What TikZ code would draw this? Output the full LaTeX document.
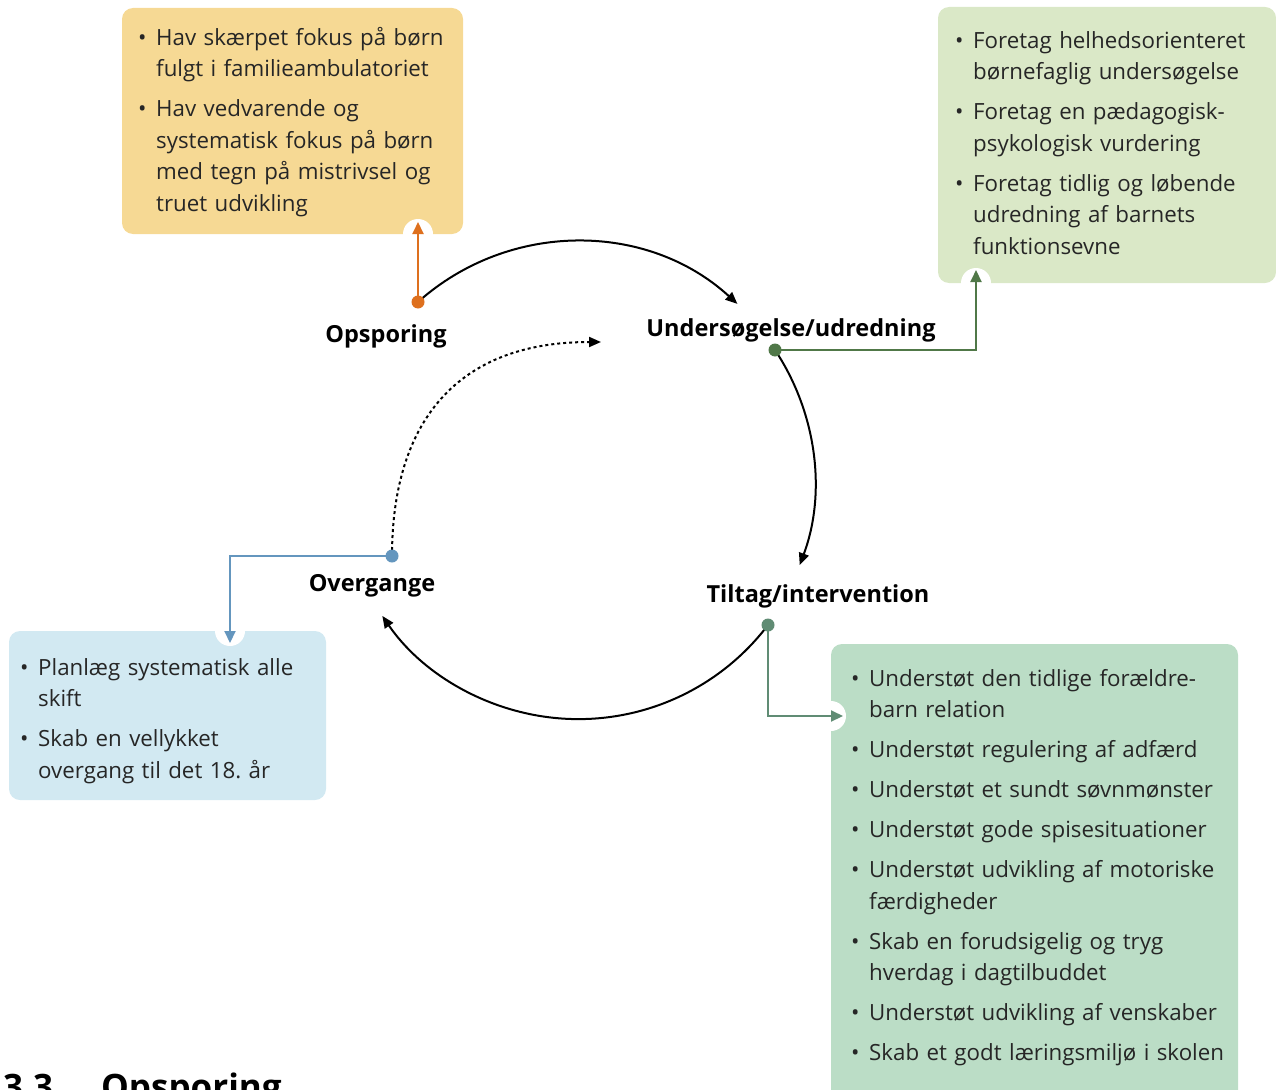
\documentclass[tikz,border=0pt]{standalone}
\usepackage{fontspec}
\setmainfont{Open Sans}
\usetikzlibrary{arrows.meta}
\frenchspacing
\definecolor{opsfill}{RGB}{246,217,148}
\definecolor{undfill}{RGB}{218,232,199}
\definecolor{ovefill}{RGB}{210,233,242}
\definecolor{tilfill}{RGB}{187,221,198}
\definecolor{opsline}{RGB}{222,112,30}
\definecolor{undline}{RGB}{80,120,72}
\definecolor{oveline}{RGB}{100,150,190}
\definecolor{tilline}{RGB}{96,140,116}
\newcommand\punkt{\hangindent=18pt\hangafter=1\makebox[18pt][l]{\textbullet}}

\begin{document}
\begin{tikzpicture}[x=1pt,y=-1pt,
  boks/.style={rounded corners=11pt},
  tekst/.style={anchor=north west,inner sep=0pt,text width=480pt,align=left,text=black!85,
    font=\fontsize{22.3}{31.5}\selectfont\setlength{\parskip}{8.5pt}},
  fase/.style={font=\bfseries\fontsize{23.5}{28}\selectfont,anchor=base,inner sep=0pt},
  hak/.style={fill=white,draw=none},
  cyc/.style={line width=2pt,-{Triangle[length=12pt,width=10pt]}},
  pil/.style={line width=2pt,-{Triangle[length=12pt,width=11pt]}}]
\useasboundingbox (0,0) rectangle (1276,1089);

% boxes
\fill[opsfill,boks] (122,8) rectangle (463,234);
\fill[undfill,boks] (938,7) rectangle (1276,283);
\fill[ovefill,boks] (9,631) rectangle (326,800);
\fill[tilfill,boks] (831,644) rectangle (1238,1120);
\fill[hak] (418,234) circle (15);
\fill[hak] (976,283) circle (15);
\fill[hak] (230,631) circle (15);
\fill[hak] (831,716) circle (15);

% dots and arrow ends
\coordinate (d-ops) at (418,302);
\coordinate (d-und) at (775,350);
\coordinate (d-til) at (768,625);
\coordinate (d-ove) at (392,556);
\coordinate (n-ops) at (418,222);
\coordinate (n-und) at (976,270);
\coordinate (n-til) at (843,716);
\coordinate (n-ove) at (230,643);
\coordinate (ret) at (601,342);

% cycle
\draw[cyc] (d-ops) arc[start angle=-131.8,end angle=-47.5,radius=238];
\draw[cyc] (d-und) arc[start angle=-33.6,end angle=20.5,radius=238];
\draw[cyc] (d-til) arc[start angle=37.2,end angle=145.5,radius=238];
\draw[cyc,dash pattern=on 3pt off 3pt] (d-ove) .. controls (392,430) and (450,342) .. (ret);

% connectors to boxes
\draw[pil,opsline] (d-ops) -- (n-ops);
\draw[pil,undline] (d-und) -| (n-und);
\draw[pil,tilline] (d-til) |- (n-til);
\draw[pil,oveline] (d-ove) -| (n-ove);
\fill[opsline] (d-ops) circle (6.5);
\fill[undline] (d-und) circle (6.5);
\fill[tilline] (d-til) circle (6.5);
\fill[oveline] (d-ove) circle (6.5);

% phase labels
\node[fase] (ops) at (386,342) {Opsporing};
\node[fase] (und) at (791,336) {Undersøgelse/udredning};
\node[fase] (til) at (818,602) {Tiltag/intervention};
\node[fase] (ove) at (372,591) {Overgange};

% box texts
\node[tekst] (t-ops) at (138,27) {\punkt Hav skærpet fokus på børn\newline fulgt i familieambulatoriet\par
  \punkt Hav vedvarende og\newline systematisk fokus på børn\newline med tegn på mistrivsel og\newline truet udvikling\par};
\node[tekst] (t-und) at (955,31) {\punkt Foretag helhedsorienteret\newline børnefaglig undersøgelse\par
  \punkt Foretag en pædagogisk-\newline psykologisk vurdering\par
  \punkt Foretag tidlig og løbende\newline udredning af barnets\newline funktionsevne\par};
\node[tekst] (t-ove) at (20,658) {\punkt Planlæg systematisk alle\newline skift\par
  \punkt Skab en vellykket\newline overgang til det 18. år\par};
\node[tekst] (t-til) at (851,669) {\punkt Understøt den tidlige forældre-\newline barn relation\par
  \punkt Understøt regulering af adfærd\par
  \punkt Understøt et sundt søvnmønster\par
  \punkt Understøt gode spisesituationer\par
  \punkt Understøt udvikling af motoriske\newline færdigheder\par
  \punkt Skab en forudsigelig og tryg\newline hverdag i dagtilbuddet\par
  \punkt Understøt udvikling af venskaber\par
  \punkt Skab et godt læringsmiljø i skolen\par};

% heading cut by the page edge
\node[anchor=base west,inner sep=0pt,font=\bfseries\fontsize{35}{40}\selectfont] (overskrift) at (3,1099) {3.3\hspace{48pt}Opsporing};
\end{tikzpicture}
\end{document}
